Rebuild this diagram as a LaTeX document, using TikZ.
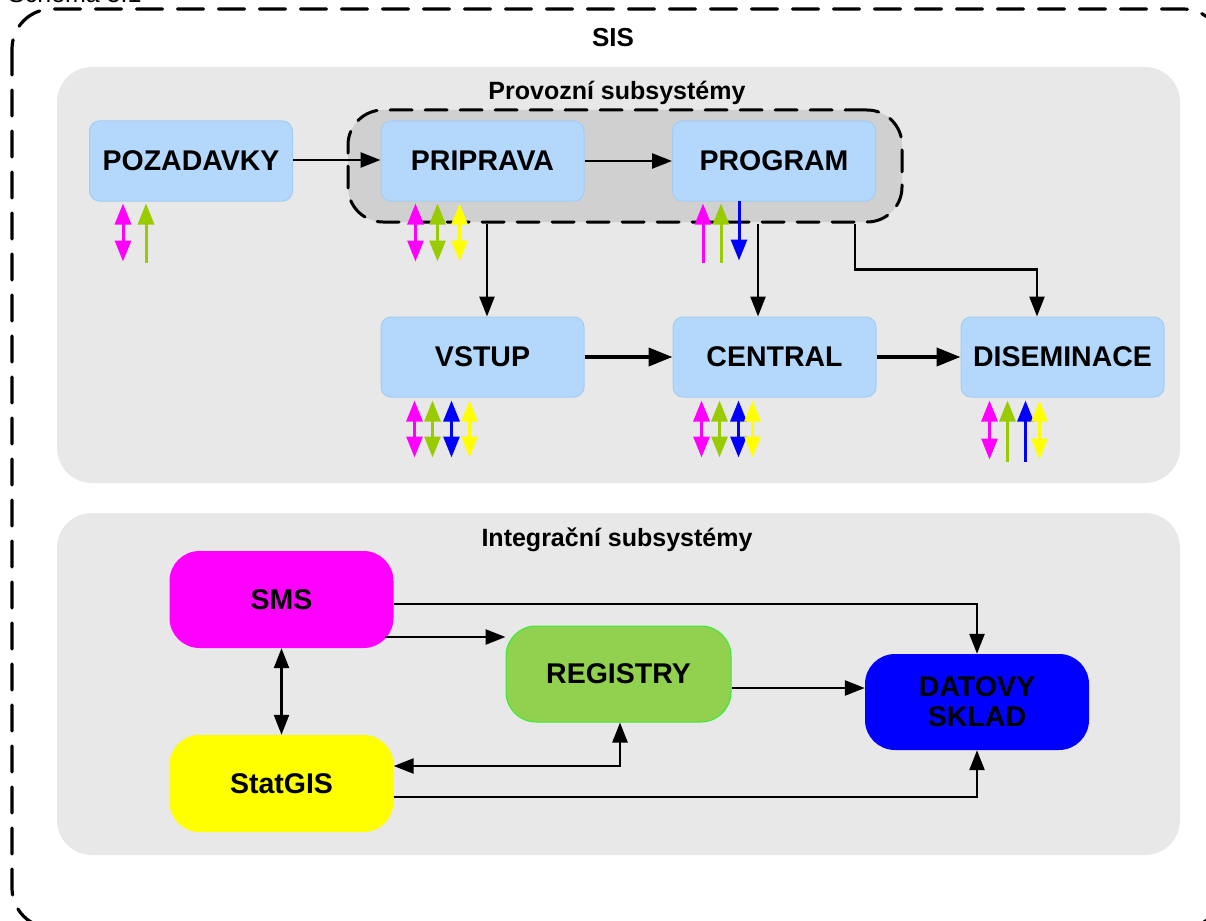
\documentclass[tikz,border=0pt]{standalone}
\usepackage{fontspec}
\setmainfont{Liberation Sans}
\usetikzlibrary{arrows.meta}
\definecolor{panelc}{HTML}{E8E8E8}
\definecolor{grpc}{HTML}{D0D0D0}
\definecolor{lblue}{HTML}{B3D8FC}
\definecolor{lbord}{HTML}{A3CCF4}
\definecolor{magc}{HTML}{FF00FF}
\definecolor{grnc}{HTML}{99CC00}
\definecolor{bluc}{HTML}{0000FF}
\definecolor{yelc}{HTML}{FFFF00}
\definecolor{regf}{HTML}{92D050}
\definecolor{regb}{HTML}{33EE33}
\tikzset{
  sbox/.style={draw=lbord, fill=lblue, line width=1pt, rounded corners=10pt,
    minimum width=203pt, minimum height=80pt, inner sep=0pt,
    font=\fontsize{28.5}{30}\selectfont\bfseries},
  ibox/.style={rounded corners=30pt, minimum width=224pt, minimum height=97pt,
    inner sep=0pt, align=center, font=\fontsize{28.5}{30}\selectfont\bfseries},
  conn/.style={line width=2.5pt, -{Triangle[length=20pt,width=15pt]}},
  dconn/.style={line width=2.5pt, {Triangle[length=20pt,width=15pt]}-{Triangle[length=20pt,width=15pt]}},
  tconn/.style={line width=4pt, -{Triangle[length=24pt,width=18pt]}},
  sup/.style={line width=3pt, -{Triangle[length=21pt,width=16pt]}},
  sdn/.style={line width=3pt, -{Triangle[length=21pt,width=16pt]}},
  sboth/.style={line width=3pt, {Triangle[length=21pt,width=16pt]}-{Triangle[length=21pt,width=16pt]}},
  ttl/.style={font=\fontsize{25}{28}\selectfont\bfseries, inner sep=0pt},
}
\begin{document}
\begin{tikzpicture}[x=1pt,y=-1pt]
\useasboundingbox (0,0) rectangle (1206,920);
% caption cut at the top
\node[anchor=base west, inner sep=0pt, font=\fontsize{25}{28}\selectfont] (cap) at (8,3) {Schéma 5.1};
% outer dashed border
\draw[line width=3.2pt, line cap=round, dash pattern=on 26pt off 15pt, rounded corners=40pt]
  (12,9) rectangle (1223,928);
\node[ttl, font=\fontsize{26}{28}\selectfont\bfseries] (sis) at (613,38) {SIS};
% panels
\fill[panelc, rounded corners=35pt] (57,67) rectangle (1180,483);
\fill[panelc, rounded corners=35pt] (57,513) rectangle (1180,855);
\node[ttl] (prov) at (617,93) {Provozní subsystémy};
\node[ttl] (integ) at (617,540) {Integrační subsystémy};
% group box
\node[draw, fill=grpc, line width=3pt, line cap=round, dash pattern=on 22pt off 13pt,
  rounded corners=35pt, minimum width=554pt, minimum height=112pt, inner sep=0pt] (grp) at (625,166) {};
% blue boxes
\node[sbox] (poz) at (191,161) {POZADAVKY};
\node[sbox] (pri) at (482.5,161) {PRIPRAVA};
\node[sbox] (pro) at (774,161) {PROGRAM};
\node[sbox] (vst) at (482.5,357) {VSTUP};
\node[sbox] (cen) at (774.5,357) {CENTRAL};
\node[sbox] (dis) at (1062.5,357) {DISEMINACE};
% connectors upper
\draw[conn] ([shift={(0,-1)}]poz.east) -- ([shift={(0,-1)}]pri.west);
\draw[conn] ([shift={(0,0)}]pri.east) -- ([shift={(0,0)}]pro.west);
\draw[tconn] ([shift={(0,0)}]vst.east) -- ([shift={(0,0)}]cen.west);
\draw[tconn] ([shift={(0,0)}]cen.east) -- ([shift={(0,0)}]dis.west);
\draw[conn] ([shift={(4.5,0)}]vst.north |- grp.south) -- ([shift={(4.5,0)}]vst.north);
\draw[conn] ([shift={(-16.5,0)}]cen.north |- grp.south) -- ([shift={(-16.5,0)}]cen.north);
\draw[conn] ([shift={(230,0)}]grp.south) -- ++(0,46) -| ([shift={(-25.5,0)}]dis.north);
% small arrows POZADAVKY
\draw[sboth, magc] ([shift={(34,2)}]poz.south west) -- ++(0,58);
\draw[sup, grnc] ([shift={(57,61)}]poz.south west) -- ++(0,-59);
% PRIPRAVA
\draw[sboth, magc] ([shift={(35,2)}]pri.south west) -- ++(0,58);
\draw[sboth, grnc] ([shift={(57,2)}]pri.south west) -- ++(0,58);
\draw[sboth, yelc] ([shift={(79,2)}]pri.south west) -- ++(0,58);
% PROGRAM
\draw[sup, magc] ([shift={(31,61)}]pro.south west) -- ++(0,-59);
\draw[sup, grnc] ([shift={(49,61)}]pro.south west) -- ++(0,-59);
\draw[sdn, bluc] ([shift={(67,-1)}]pro.south west) -- ++(0,60);
% VSTUP
\draw[sboth, magc] ([shift={(34,3)}]vst.south west) -- ++(0,57);
\draw[sboth, grnc] ([shift={(52,3)}]vst.south west) -- ++(0,57);
\draw[sboth, bluc] ([shift={(71,3)}]vst.south west) -- ++(0,57);
\draw[sboth, yelc] ([shift={(89,3)}]vst.south west) -- ++(0,57);
% CENTRAL
\draw[sboth, magc] ([shift={(29,3)}]cen.south west) -- ++(0,57);
\draw[sboth, grnc] ([shift={(47,3)}]cen.south west) -- ++(0,57);
\draw[sboth, bluc] ([shift={(66,3)}]cen.south west) -- ++(0,57);
\draw[sboth, yelc] ([shift={(80,3)}]cen.south west) -- ++(0,57);
% DISEMINACE
\draw[sboth, magc] ([shift={(29,3)}]dis.south west) -- ++(0,59);
\draw[sup, grnc] ([shift={(47,64)}]dis.south west) -- ++(0,-61);
\draw[sup, bluc] ([shift={(65,64)}]dis.south west) -- ++(0,-61);
\draw[sboth, yelc] ([shift={(79,3)}]dis.south west) -- ++(0,59);
% lower boxes
\node[ibox, fill=magc] (sms) at (281.5,599.5) {SMS};
\node[ibox, fill=yelc] (stat) at (281.5,783.5) {StatGIS};
\node[ibox, fill=regf, draw=regb, line width=1pt, minimum width=225pt, minimum height=96pt] (reg) at (618.5,674) {REGISTRY};
\node[ibox, fill=bluc, minimum height=96pt] (dat) at (977,702) {DATOVY\\SKLAD};
% lower connectors
\draw[conn] ([shift={(0,4.5)}]sms.east) -| (dat.north);
\draw[conn] ([shift={(-9,37.5)}]sms.east) -- ([shift={(0,-37)}]reg.west);
\draw[dconn] (sms.south) -- (stat.north);
\draw[dconn] ([shift={(0,-17.5)}]stat.east) -| ([shift={(1.5,0)}]reg.south);
\draw[conn] ([shift={(0,14)}]reg.east) -- ([shift={(0,-14)}]dat.west);
\draw[conn] ([shift={(0,13.5)}]stat.east) -| (dat.south);
\end{tikzpicture}
\end{document}
